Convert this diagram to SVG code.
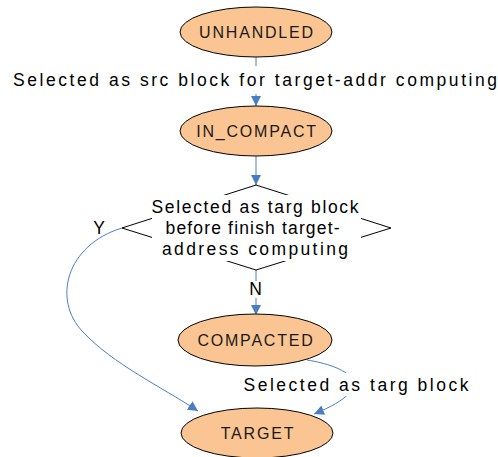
<svg xmlns="http://www.w3.org/2000/svg" width="498" height="457" viewBox="0 0 498 457">
<defs>
<style>
.node ellipse{fill:#FAC592;stroke:#000;stroke-width:1}
.nl{font-family:"Liberation Sans",Arial,sans-serif;font-size:16px;letter-spacing:1.8px;text-anchor:middle;fill:#1a1a1a}
.lbl{font-family:"Liberation Sans",Arial,sans-serif;font-size:17.5px;fill:#000}
.conn{fill:none;stroke:#4A7EC4;stroke-width:1}
.bg{fill:#fff}
</style>
<marker id="ah" viewBox="0 0 10 10" refX="10" refY="5" markerWidth="10" markerHeight="10" markerUnits="userSpaceOnUse" orient="auto">
<path d="M0,0 L10,5 L0,10 z" fill="#4A7EC4"/>
</marker>
</defs>
<rect width="498" height="457" fill="#fff"/>
<g id="connectors">
<line class="conn" x1="256" y1="57" x2="256" y2="106" marker-end="url(#ah)"/>
<line class="conn" x1="256" y1="156" x2="256" y2="185" marker-end="url(#ah)"/>
<line class="conn" x1="256" y1="270" x2="256" y2="315" marker-end="url(#ah)"/>
<path class="conn" d="M122,228 C66,245 52,300 83,332 C113,364 160,386 198,411" marker-end="url(#ah)"/>
<path class="conn" d="M307,360 C345,366 385,385 314,414" marker-end="url(#ah)"/>
<rect class="bg" x="10" y="66" width="488" height="28"/>
<rect class="bg" x="243" y="373" width="227" height="23"/>
<rect class="bg" x="248" y="281" width="16" height="17"/>
<text class="lbl" x="13" y="86" font-size="18" textLength="484" lengthAdjust="spacing">Selected as src block for target-addr computing</text>
<text class="lbl" x="243.5" y="390.5" font-size="18" textLength="225" lengthAdjust="spacing">Selected as targ block</text>
<text class="lbl" x="255.5" y="295" text-anchor="middle" font-size="14">N</text>
<text class="lbl" x="99" y="234" text-anchor="middle" font-size="14">Y</text>
</g>
<g id="unhandled" class="node">
<ellipse cx="256" cy="32" rx="76" ry="25"/>
<text class="nl" x="257" y="38">UNHANDLED</text>
</g>
<g id="in_compact" class="node">
<ellipse cx="256" cy="131" rx="76" ry="25"/>
<text class="nl" x="257" y="137">IN_COMPACT</text>
</g>
<g id="decision">
<polygon points="256,185 391,228 256,270 122,228" fill="none" stroke="#000" stroke-width="1"/>
<rect class="bg" x="152" y="195" width="209" height="66"/>
<text class="lbl" x="151.5" y="213.3" textLength="207" lengthAdjust="spacing">Selected as targ block</text>
<text class="lbl" x="165.5" y="234.3" textLength="174" lengthAdjust="spacing">before finish target-</text>
<text class="lbl" x="162" y="255" textLength="186" lengthAdjust="spacing">address computing</text>
</g>
<g id="compacted" class="node">
<ellipse cx="255" cy="340" rx="77" ry="26"/>
<text class="nl" x="256" y="346">COMPACTED</text>
</g>
<g id="target" class="node">
<ellipse cx="257" cy="433" rx="76" ry="25"/>
<text class="nl" x="258" y="439">TARGET</text>
</g>
</svg>
